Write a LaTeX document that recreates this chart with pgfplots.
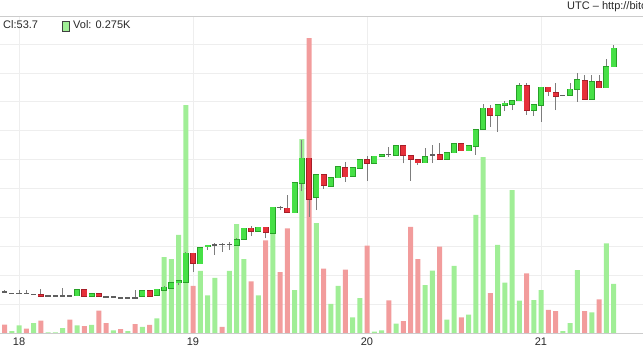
\documentclass[border=0pt]{standalone}
\usepackage{pgfplots}
\pgfplotsset{compat=1.18}
\usepackage{pgfplotstable}
\usepackage{fontspec}
\setmainfont{Liberation Sans}
\setsansfont{Liberation Sans}

\definecolor{cgreen}{RGB}{70,224,70}
\definecolor{cgreenb}{RGB}{40,160,40}
\definecolor{cred}{RGB}{230,48,58}
\definecolor{credb}{RGB}{165,30,40}
\definecolor{vgreen}{RGB}{160,238,150}
\definecolor{vred}{RGB}{242,156,156}
\definecolor{wickc}{RGB}{125,125,125}
\definecolor{flatc}{RGB}{95,95,95}
\definecolor{gridc}{RGB}{238,238,238}
\definecolor{txt}{RGB}{40,40,40}

% k = hour from day 18 00:00 ; o h l c = price ; vc = volume colour (1 green, 0 red) ; v = volume
\pgfplotstableread{
k o h l c vc v
-2 36.86 37.01 36.77 36.82 0 47
-1 36.75 36.78 36.73 36.76 1 11
0 36.75 36.98 36.73 36.76 1 43
1 36.76 36.98 36.73 36.75 0 24
2 36.68 36.72 36.66 36.69 1 56
3 36.63 37.02 36.54 36.56 0 69
4 36.56 36.58 36.54 36.57 1 3
5 36.57 36.59 36.54 36.56 1 3
6 36.58 37.09 36.56 36.59 1 28
7 36.59 36.61 36.56 36.58 0 75
8 36.58 37.00 36.56 36.98 1 43
9 36.98 37.00 36.54 36.56 0 39
10 36.54 36.72 36.52 36.70 1 45
11 36.70 36.72 36.54 36.56 0 125
12 36.53 36.55 36.49 36.51 0 56
13 36.49 36.51 36.47 36.50 1 15
14 36.46 36.48 36.42 36.44 0 22
15 36.44 36.46 36.42 36.45 1 10
16 36.45 36.98 36.42 36.44 0 50
17 36.56 36.95 36.54 36.93 1 35
18 36.91 36.93 36.52 36.54 0 45
19 36.61 37.05 36.59 37.02 1 82
20 36.98 37.22 36.96 37.16 1 426
21 37.09 37.50 37.07 37.48 1 415
22 37.48 37.67 37.32 37.60 1 550
23 37.51 39.61 37.48 39.52 1 1279
24 39.52 39.55 38.24 38.82 0 264
25 38.80 39.93 38.78 39.90 1 348
26 39.97 40.09 39.74 40.06 1 211
27 40.07 40.25 39.40 40.11 1 309
28 40.15 40.25 39.63 40.13 0 34
29 40.14 40.30 39.74 40.16 1 348
30 40.09 40.55 40.05 40.44 1 611
31 40.48 41.28 40.45 41.25 1 415
32 41.25 41.40 40.71 41.06 0 290
33 41.06 41.33 41.03 41.31 1 211
34 41.31 41.33 40.55 40.97 0 520
35 40.90 42.72 40.88 42.70 1 606
36 42.72 42.79 42.51 42.68 0 341
37 42.63 43.55 42.33 42.35 0 587
38 42.33 44.43 42.30 44.40 1 240
39 44.36 47.36 43.83 46.09 1 1087
40 46.09 46.12 42.05 43.27 0 1655
41 43.38 44.96 42.51 44.93 1 617
42 44.93 44.96 43.97 44.21 0 361
43 44.14 44.79 44.10 44.76 1 164
44 44.76 45.52 44.73 45.49 1 265
45 45.45 45.85 44.47 44.83 0 355
46 44.84 45.45 44.80 45.42 1 88
47 45.42 46.00 45.40 45.97 1 196
48 45.97 46.25 44.54 45.74 0 490
49 45.74 46.26 45.70 46.23 1 8
50 46.25 46.38 46.20 46.35 1 15
51 46.38 46.89 46.20 46.36 0 183
52 46.32 46.97 46.30 46.94 1 52
53 46.94 46.97 45.74 46.32 0 66
54 46.25 46.28 44.54 46.02 0 595
55 45.97 46.00 45.63 45.79 0 415
56 45.79 46.78 45.76 46.20 1 269
57 46.31 47.01 45.76 46.34 1 350
58 46.32 47.13 46.00 46.02 0 484
59 46.02 46.51 45.99 46.48 1 75
60 46.48 47.11 46.45 47.08 1 376
61 47.08 47.11 46.58 46.61 0 88
62 46.61 46.97 46.58 46.94 1 103
63 46.91 48.10 46.32 48.07 1 662
64 48.10 49.85 48.07 49.55 1 987
65 49.55 49.78 48.28 49.09 0 223
66 49.09 49.81 47.93 49.78 1 494
67 49.78 50.08 49.36 49.90 1 282
68 49.85 50.11 49.43 50.08 1 802
69 50.08 51.28 50.05 51.09 1 181
70 51.09 51.32 49.09 49.43 0 335
71 49.43 49.81 49.02 49.78 1 185
72 49.78 51.03 48.62 51.00 1 241
73 51.00 51.03 50.40 50.70 0 129
74 50.63 51.28 49.43 50.40 0 123
75 50.43 50.47 50.40 50.45 1 10
76 50.47 51.32 50.45 50.87 1 56
77 50.87 52.01 50.01 51.51 1 353
78 51.46 51.85 50.15 50.17 0 123
79 50.17 51.85 50.15 51.39 1 116
80 51.39 51.85 50.96 50.98 0 189
81 50.98 52.94 50.96 52.43 1 503
82 52.43 53.93 52.41 53.70 1 275
}\candles

% volume is drawn on the price axis: 1778.4 volume units span the full price range 34..55.94
\newcommand{\vscale}{81.06}

\begin{document}
\begin{tikzpicture}
\begin{axis}[
  width=643pt, height=317pt, scale only axis,
  xmin=-2.621, xmax=86.07,
  ymin=34, ymax=55.94,
  clip mode=individual,
  separate axis lines,
  x axis line style={draw=black!20, line width=0.8pt},
  y axis line style={draw=none},
  major tick length=0pt,
  xtick={0,24,48,72},
  xticklabels={\textsf{18},\textsf{19},\textsf{20},\textsf{21}},
  ytick={34,36,...,54},
  yticklabels={},
  xmajorgrids, ymajorgrids,
  grid style={gridc, line width=0.8pt},
  tick label style={font=\fontsize{11}{13}\selectfont, text=txt},
  xticklabel style={yshift=-1pt},
]
% volume bars
\addplot[ybar, bar width=5pt, bar shift=0pt, fill=vgreen, draw=none,
  restrict expr to domain={\thisrow{vc}}{0.5:1.5}]
  table[x=k, y expr=34+\thisrow{v}/\vscale]{\candles};
\addplot[ybar, bar width=5pt, bar shift=0pt, fill=vred, draw=none,
  restrict expr to domain={\thisrow{vc}}{-0.5:0.5}]
  table[x=k, y expr=34+\thisrow{v}/\vscale]{\candles};
% wicks
\addplot[draw=none, mark=none,
  error bars/.cd, y dir=plus, y explicit, error mark=none,
  error bar style={draw=wickc, line width=1pt}]
  table[x=k, y=l, y error expr=\thisrow{h}-\thisrow{l}]{\candles};
% flat candles (open ~ close): thin dark line
\addplot[draw=none, mark=none,
  restrict expr to domain={abs(\thisrow{c}-\thisrow{o})}{0:0.0499},
  error bars/.cd, y dir=both, y explicit, error mark=none,
  error bar style={draw=flatc, line width=5.4pt}]
  table[x=k, y expr={(\thisrow{o}+\thisrow{c})/2}, y error expr={0.04}]{\candles};
% green bodies
\addplot[draw=none, mark=none,
  restrict expr to domain={\thisrow{c}-\thisrow{o}}{0.05:100},
  error bars/.cd, y dir=both, y explicit, error mark=none,
  error bar style={draw=cgreenb, line width=6pt}]
  table[x=k, y expr={(\thisrow{o}+\thisrow{c})/2},
        y error expr={max(abs(\thisrow{c}-\thisrow{o})/2,0.035)+0.045}]{\candles};
\addplot[draw=none, mark=none,
  restrict expr to domain={\thisrow{c}-\thisrow{o}}{0.05:100},
  error bars/.cd, y dir=both, y explicit, error mark=none,
  error bar style={draw=cgreen, line width=4.6pt}]
  table[x=k, y expr={(\thisrow{o}+\thisrow{c})/2},
        y error expr={max(abs(\thisrow{c}-\thisrow{o})/2,0.035)}]{\candles};
% red bodies
\addplot[draw=none, mark=none,
  restrict expr to domain={\thisrow{c}-\thisrow{o}}{-100:-0.05},
  error bars/.cd, y dir=both, y explicit, error mark=none,
  error bar style={draw=credb, line width=6pt}]
  table[x=k, y expr={(\thisrow{o}+\thisrow{c})/2},
        y error expr={max(abs(\thisrow{c}-\thisrow{o})/2,0.035)+0.045}]{\candles};
\addplot[draw=none, mark=none,
  restrict expr to domain={\thisrow{c}-\thisrow{o}}{-100:-0.05},
  error bars/.cd, y dir=both, y explicit, error mark=none,
  error bar style={draw=cred, line width=4.6pt}]
  table[x=k, y expr={(\thisrow{o}+\thisrow{c})/2},
        y error expr={max(abs(\thisrow{c}-\thisrow{o})/2,0.035)}]{\candles};
% page corners and header texts (rel axis cs: box is 317pt high, 29pt below and 16pt above it)
\coordinate (BL) at (rel axis cs:0,-0.09148);
\coordinate (TR) at (rel axis cs:1,1.05047);
\node[anchor=west, inner sep=0pt, text=txt, font=\fontsize{11}{13}\selectfont]
  at (rel axis cs:0.8818,1.0300) {UTC – http://bitcoinwisdom.com};
\node[anchor=west, inner sep=0pt, text=txt, font=\fontsize{11}{13}\selectfont]
  at (rel axis cs:0.00467,0.9732) {Cl:53.7};
\filldraw[fill=vgreen, draw=black!75, line width=0.9pt]
  (rel axis cs:0.0972,0.9527) rectangle (rel axis cs:0.1073,0.9732+0.0103);
\node[anchor=west, inner sep=0pt, text=txt, font=\fontsize{11}{13}\selectfont]
  at (rel axis cs:0.1135,0.9732) {Vol: 0.275K};
\end{axis}
\pgfresetboundingbox
\useasboundingbox (BL) rectangle (TR);
\end{tikzpicture}
\end{document}
